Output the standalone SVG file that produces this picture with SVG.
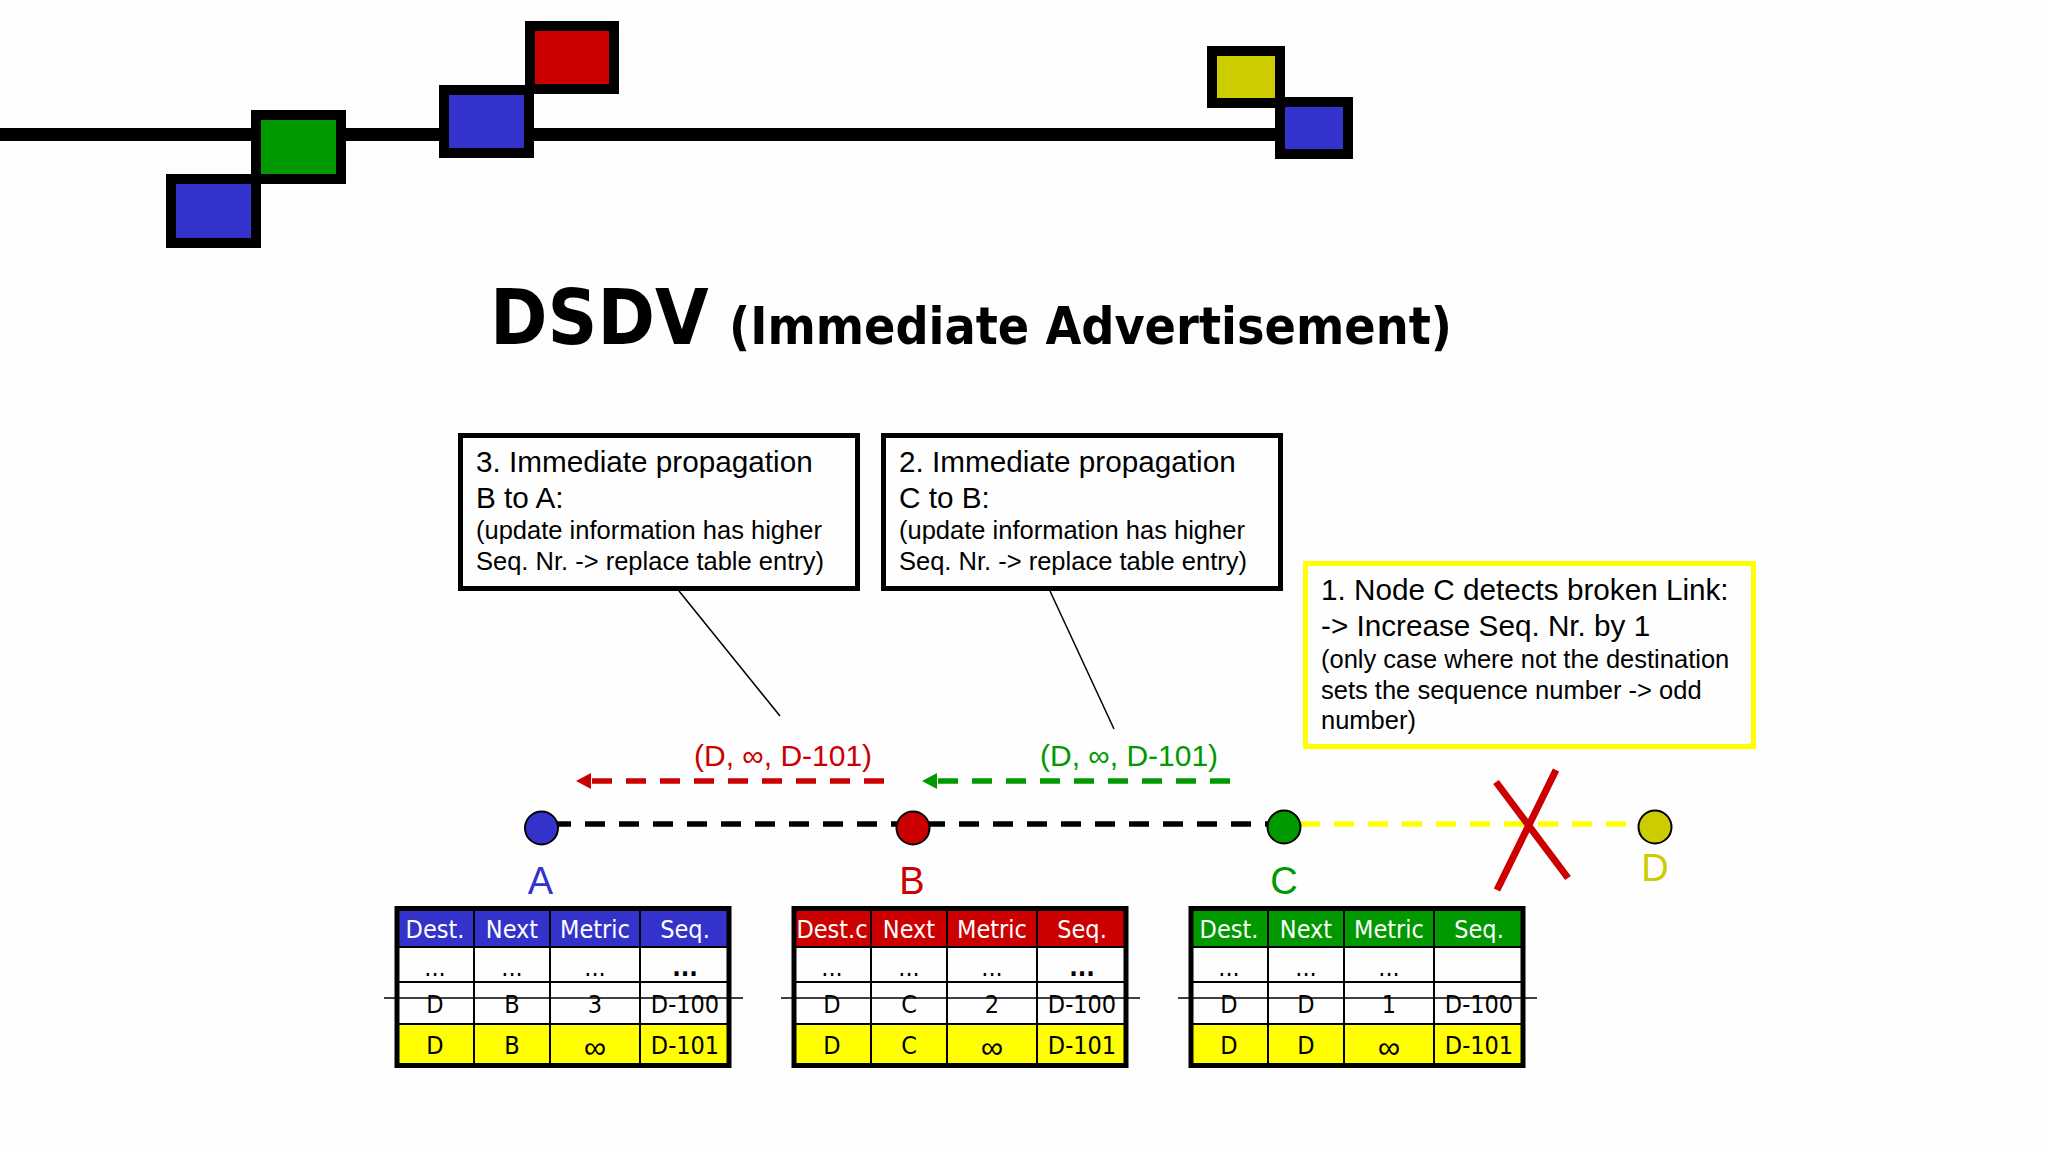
<svg xmlns="http://www.w3.org/2000/svg" width="2048" height="1152" viewBox="0 0 2048 1152">
<style>
text{font-family:"Liberation Sans",Arial,sans-serif}
.sq{stroke:#000;stroke-width:10}
.box{fill:#fefefe;stroke:#000;stroke-width:5}
.l{font-size:29.700px;fill:#000}
.s{font-size:25.500px;fill:#000}
.lead{stroke:#000;stroke-width:1.5;fill:none}
.nc{stroke:#000;stroke-width:2}
.nl{font-size:38px;text-anchor:middle}
.dash{stroke-width:5.500;stroke-dasharray:20 14;fill:none}
.pl{font-size:30px}
.ti{font-family:"DejaVu Sans",sans-serif;font-stretch:condensed;font-weight:bold;fill:#000}
.grid{stroke:#000;stroke-width:2;fill:none}
.border{stroke:#000;stroke-width:5;fill:none}
.tt text{font-family:"DejaVu Sans",sans-serif;font-stretch:condensed;font-size:25px;text-anchor:middle;fill:#000}
.tt text.h{fill:#fff}
.tt text.inf{font-family:"Liberation Sans",sans-serif;font-size:31px}
.strike{stroke:#000;stroke-width:1.5}
</style>
<defs>
<marker id="ar" markerUnits="userSpaceOnUse" markerWidth="15" markerHeight="16" refX="0" refY="8" orient="auto"><path d="M0,0L15,8L0,16z" fill="#cc0000"/></marker>
<marker id="ag" markerUnits="userSpaceOnUse" markerWidth="15" markerHeight="16" refX="0" refY="8" orient="auto"><path d="M0,0L15,8L0,16z" fill="#009900"/></marker>
</defs>
<rect width="2048" height="1152" fill="#fefefe"/>
<g id="banner">
<rect x="0" y="128" width="1280" height="13" fill="#000"/>
<rect class="sq" x="171" y="179" width="85" height="64" fill="#3333cc"/>
<rect class="sq" x="256" y="115" width="85" height="64" fill="#009900"/>
<rect class="sq" x="444" y="90" width="85" height="63" fill="#3333cc"/>
<rect class="sq" x="530" y="26" width="84" height="63" fill="#cc0000"/>
<rect class="sq" x="1212" y="51" width="68" height="52" fill="#cccc00"/>
<rect class="sq" x="1280" y="102" width="68" height="52" fill="#3333cc"/>
</g>
<g id="title">
<text class="ti" x="490" y="344" font-size="77">DSDV</text>
<text class="ti" x="729" y="344" font-size="51.500">(Immediate Advertisement)</text>
</g>
<g id="connectors">
<line class="lead" x1="679" y1="591" x2="780" y2="716"/>
<line class="lead" x1="1050" y1="591" x2="1114" y2="729"/>
<path class="dash" stroke="#000" d="M551 824H1270"/>
<path class="dash" stroke="#ffff00" d="M1300 824H1640"/>
<path class="dash" stroke="#cc0000" d="M884 781H591" marker-end="url(#ar)"/>
<path class="dash" stroke="#009900" d="M1230 781H937" marker-end="url(#ag)"/>
<path d="M1496 782L1568 878M1556 770L1497 890" stroke="#cc0000" stroke-width="7" fill="none"/>
</g>
<text class="pl" x="694" y="766" fill="#cc0000">(D, ∞, D-101)</text>
<text class="pl" x="1040" y="766" fill="#009900">(D, ∞, D-101)</text>
<g id="box3">
<rect class="box" x="460.500" y="435.500" width="397" height="153"/>
<text class="l" x="476" y="472">3. Immediate propagation</text>
<text class="l" x="476" y="508">B to A:</text>
<text class="s" x="476" y="539">(update information has higher</text>
<text class="s" x="476" y="570">Seq. Nr. -&gt; replace table entry)</text>
</g>
<g id="box2">
<rect class="box" x="883.500" y="435.500" width="397" height="153"/>
<text class="l" x="899" y="472">2. Immediate propagation</text>
<text class="l" x="899" y="508">C to B:</text>
<text class="s" x="899" y="539">(update information has higher</text>
<text class="s" x="899" y="570">Seq. Nr. -&gt; replace table entry)</text>
</g>
<g id="box1">
<rect x="1305.500" y="563.500" width="448" height="183" fill="#fefefe" stroke="#ffff00" stroke-width="5"/>
<text class="l" x="1321" y="600">1. Node C detects broken Link:</text>
<text class="l" x="1321" y="636">-&gt; Increase Seq. Nr. by 1</text>
<text class="s" x="1321" y="668">(only case where not the destination</text>
<text class="s" x="1321" y="699">sets the sequence number -&gt; odd</text>
<text class="s" x="1321" y="729">number)</text>
</g>
<g id="node-A"><circle class="nc" cx="541.500" cy="828" r="16.500" fill="#3333cc"/><text class="nl" x="540.500" y="894" fill="#3333cc">A</text></g>
<g id="node-B"><circle class="nc" cx="913" cy="828" r="16.500" fill="#cc0000"/><text class="nl" x="912" y="894" fill="#cc0000">B</text></g>
<g id="node-C"><circle class="nc" cx="1284" cy="827" r="16.500" fill="#009900"/><text class="nl" x="1284" y="894" fill="#009900">C</text></g>
<g id="node-D"><circle class="nc" cx="1655" cy="827" r="16.500" fill="#cccc00"/><text class="nl" x="1655" y="881" fill="#cccc00">D</text></g>
<g id="table-A" class="tt">
<rect x="397" y="908" width="333" height="39" fill="#3333cc"/><rect x="397" y="947" width="333" height="77" fill="#fefefe"/><rect x="397" y="1024" width="333" height="42" fill="#ffff00"/>
<path class="grid" d="M474 908V1066M550 908V1066M640 908V1066M397 947H730M397 982H730M397 1024H730"/>
<rect class="border" x="397" y="908.500" width="332" height="157"/>
<text class="h" x="435" y="938">Dest.</text><text class="h" x="512" y="938">Next</text><text class="h" x="595" y="938">Metric</text><text class="h" x="685" y="938">Seq.</text>
<text x="435" y="976">...</text><text x="512" y="976">...</text><text x="595" y="976">...</text><text x="685" y="976" font-weight="bold">...</text>
<text x="435" y="1013">D</text><text x="512" y="1013">B</text><text x="595" y="1013">3</text><text x="685" y="1013">D-100</text>
<text x="435" y="1054">D</text><text x="512" y="1054">B</text><text class="inf" x="595" y="1058">∞</text><text x="685" y="1054">D-101</text>
<line class="strike" x1="384" y1="998" x2="743" y2="998"/>
</g>
<g id="table-B" class="tt" transform="translate(397 0)">
<rect x="397" y="908" width="333" height="39" fill="#cc0000"/><rect x="397" y="947" width="333" height="77" fill="#fefefe"/><rect x="397" y="1024" width="333" height="42" fill="#ffff00"/>
<path class="grid" d="M474 908V1066M550 908V1066M640 908V1066M397 947H730M397 982H730M397 1024H730"/>
<rect class="border" x="397" y="908.500" width="332" height="157"/>
<text class="h" x="435" y="938">Dest.c</text><text class="h" x="512" y="938">Next</text><text class="h" x="595" y="938">Metric</text><text class="h" x="685" y="938">Seq.</text>
<text x="435" y="976">...</text><text x="512" y="976">...</text><text x="595" y="976">...</text><text x="685" y="976" font-weight="bold">...</text>
<text x="435" y="1013">D</text><text x="512" y="1013">C</text><text x="595" y="1013">2</text><text x="685" y="1013">D-100</text>
<text x="435" y="1054">D</text><text x="512" y="1054">C</text><text class="inf" x="595" y="1058">∞</text><text x="685" y="1054">D-101</text>
<line class="strike" x1="384" y1="998" x2="743" y2="998"/>
</g>
<g id="table-C" class="tt" transform="translate(794 0)">
<rect x="397" y="908" width="333" height="39" fill="#009900"/><rect x="397" y="947" width="333" height="77" fill="#fefefe"/><rect x="397" y="1024" width="333" height="42" fill="#ffff00"/>
<path class="grid" d="M474 908V1066M550 908V1066M640 908V1066M397 947H730M397 982H730M397 1024H730"/>
<rect class="border" x="397" y="908.500" width="332" height="157"/>
<text class="h" x="435" y="938">Dest.</text><text class="h" x="512" y="938">Next</text><text class="h" x="595" y="938">Metric</text><text class="h" x="685" y="938">Seq.</text>
<text x="435" y="976">...</text><text x="512" y="976">...</text><text x="595" y="976">...</text>
<text x="435" y="1013">D</text><text x="512" y="1013">D</text><text x="595" y="1013">1</text><text x="685" y="1013">D-100</text>
<text x="435" y="1054">D</text><text x="512" y="1054">D</text><text class="inf" x="595" y="1058">∞</text><text x="685" y="1054">D-101</text>
<line class="strike" x1="384" y1="998" x2="743" y2="998"/>
</g>
</svg>
